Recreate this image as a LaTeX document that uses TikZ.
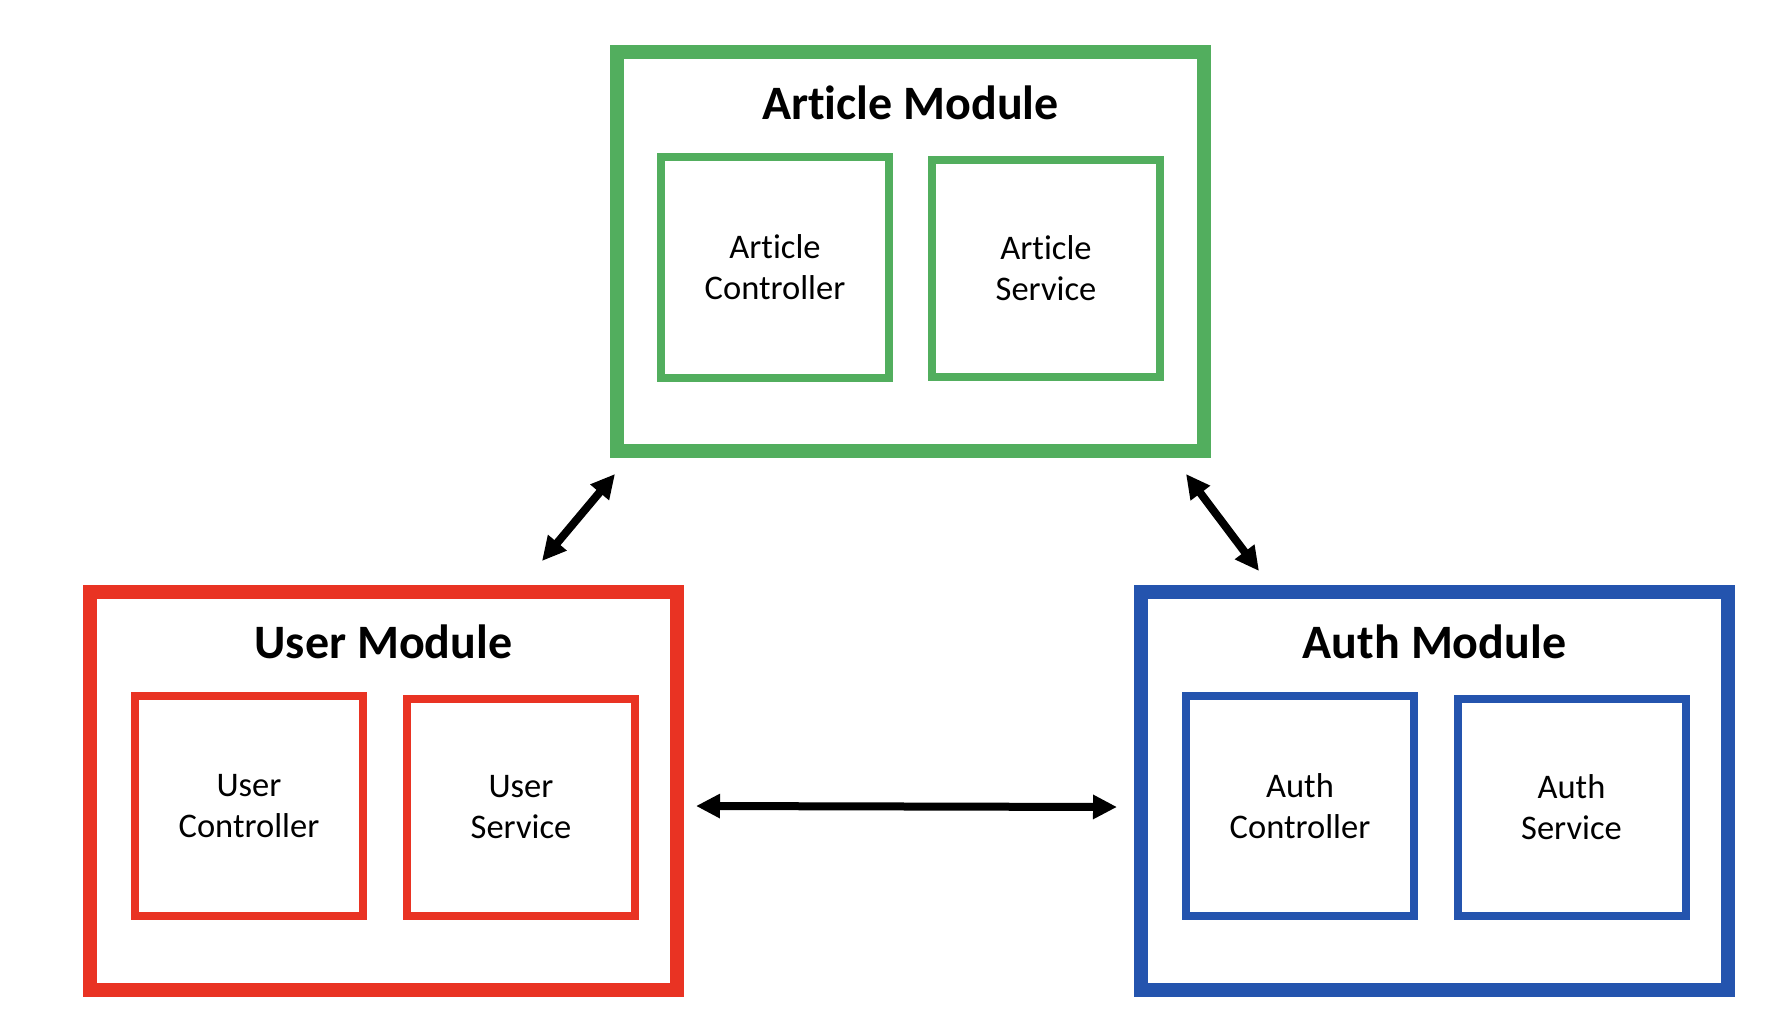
\documentclass[tikz,border=0pt]{standalone}
\usepackage{fontspec}
\setmainfont{Carlito}[Ligatures=NoCommon]
\usetikzlibrary{arrows.meta,calc}
\definecolor{modgreen}{RGB}{82,174,94}
\definecolor{modred}{RGB}{233,51,35}
\definecolor{modblue}{RGB}{36,84,174}
\newcommand{\artword}{Art\kern0pt icle}
\tikzset{
  modbox/.style={draw=#1, line width=14pt, rectangle, inner sep=0pt, outer sep=0pt,
    minimum width=587pt, minimum height=398pt},
  ctrlbox/.style={draw=#1, line width=8pt, rectangle, inner sep=0pt, outer sep=0pt,
    minimum width=228pt, minimum height=220pt, align=center,
    font=\fontsize{34.5}{41}\selectfont},
  servbox/.style={draw=#1, line width=8pt, rectangle, inner sep=0pt, outer sep=0pt,
    minimum width=228pt, minimum height=217pt, align=center,
    font=\fontsize{34.5}{41}\selectfont},
  modtitle/.style={anchor=base, inner sep=0pt, font=\fontsize{48}{58}\selectfont\bfseries},
  link/.style={line width=8pt, {Triangle[length=24pt,width=23pt]}-{Triangle[length=24pt,width=23pt]}}
}
\begin{document}
\begin{tikzpicture}[x=1pt,y=-1pt]
\useasboundingbox[fill=white] (0,0) rectangle (1788,1024);
% modules
\node[modbox=modgreen] (am) at (910.5,251.5) {};
\node[modbox=modred] (um) at (383.5,790.5) {};
\node[modbox=modblue] (hm) at (1434.5,790.5) {};
% titles
\node[modtitle] (amt) at ($(am.north)+(0,67)$) {\artword{} Module};
\node[modtitle] (umt) at ($(um.north)+(0,67)$) {User Module};
\node[modtitle] (hmt) at ($(hm.north)+(0,67)$) {Auth Module};
% inner boxes
\node[ctrlbox=modgreen] (ac) at ($(am)+(-135.5,16)$) {\artword\\Controller};
\node[servbox=modgreen] (as) at ($(am)+(135.5,17)$) {\artword\\Service};
\node[ctrlbox=modred] (uc) at ($(um)+(-134.5,15.5)$) {User\\Controller};
\node[servbox=modred] (us) at ($(um)+(137.5,17)$) {User\\Service};
\node[ctrlbox=modblue] (hc) at ($(hm)+(-134.5,15.5)$) {Auth\\Controller};
\node[servbox=modblue] (hs) at ($(hm)+(137,17)$) {Auth\\Service};
% arrow ends
\coordinate (ua) at (542,561);
\coordinate (au) at (615,474);
\coordinate (ah) at (1186,474);
\coordinate (ha) at (1259,571);
\coordinate (uh) at (696,806);
\coordinate (hu) at (1117,807);
\draw[link] (ua) -- (au);
\draw[link] (ah) -- (ha);
\draw[link] (uh) -- (hu);
\end{tikzpicture}
\end{document}
